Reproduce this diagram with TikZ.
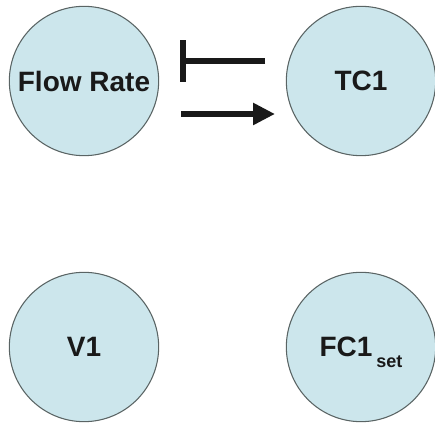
\documentclass[tikz,border=0pt]{standalone}
\usepackage{fontspec}
\setmainfont{Liberation Sans}
\usetikzlibrary{arrows.meta,calc}
\definecolor{cfill}{RGB}{204,230,236}
\definecolor{cedge}{RGB}{90,100,100}
\definecolor{ctext}{RGB}{25,25,25}
\begin{document}
\begin{tikzpicture}[x=0.75pt,y=-0.75pt,
  state/.style={circle, draw=cedge, line width=0.8pt, fill=cfill,
    minimum size=112pt, inner sep=0pt,
    font=\bfseries\fontsize{21}{24}\selectfont, text=ctext},
  link/.style={line width=4.8pt, draw=ctext}]
\useasboundingbox (0,0) rectangle (435,423);
\node[state] (fr) at (84,81) {Flow Rate};
\node[state] (tc) at (361,81) {TC1};
\node[state] (v1) at (84,347) {V1};
\node[state] (fc) at (361,347) {FC1\hspace{3pt}\smash{\raisebox{-8pt}{\fontsize{13.5}{15}\selectfont set}}};
\draw[link,-{Bar[width=31.5pt]}] ($(tc.center)+(-96,-20)$) -- ($(fr.center)+(96,-20)$);
\draw[link,-{Triangle[length=16.5pt,width=15.75pt]}] ($(fr.center)+(97,33)$) -- ($(tc.center)+(-86,33)$);
\end{tikzpicture}
\end{document}
